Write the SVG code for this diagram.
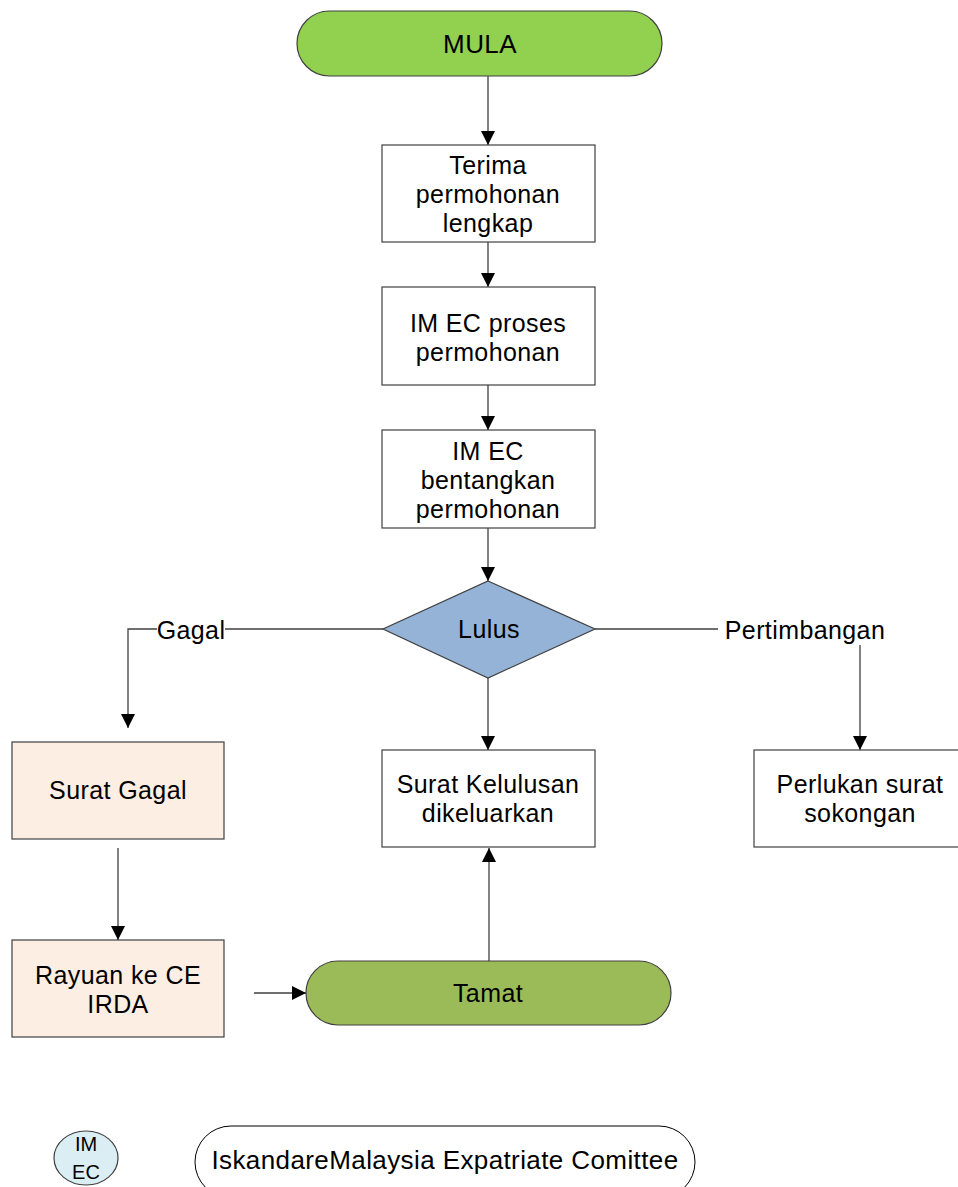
<svg xmlns="http://www.w3.org/2000/svg" width="958" height="1187" viewBox="0 0 958 1187">
<defs>
<marker id="arr" viewBox="0 0 10 10" refX="10" refY="5" markerWidth="14" markerHeight="14" markerUnits="userSpaceOnUse" orient="auto">
<path d="M0,0 L10,5 L0,10 Z" fill="#000"/>
</marker>
<style>
.t{font-family:"Liberation Sans",Arial,sans-serif;font-size:25px;letter-spacing:0.4px;fill:#000;text-anchor:middle;dominant-baseline:central}
.big{font-size:26px}
.sm{font-size:20px;letter-spacing:0}
.box{fill:#fff;stroke:#404040;stroke-width:1.2}
.peach{fill:#fdeee3;stroke:#404040;stroke-width:1.2}
.ln{fill:none;stroke:#404040;stroke-width:1.3}
.lbl{fill:#fff}
</style>
</defs>
<rect width="958" height="1187" fill="#fff"/>
<g id="connectors">
<path class="ln" d="M488,76 V145" marker-end="url(#arr)"/>
<path class="ln" d="M488,242 V287" marker-end="url(#arr)"/>
<path class="ln" d="M488,385 V430" marker-end="url(#arr)"/>
<path class="ln" d="M488,528 V581" marker-end="url(#arr)"/>
<path class="ln" d="M383,629 H128 V728" marker-end="url(#arr)"/>
<path class="ln" d="M595,629 H860 V750" marker-end="url(#arr)"/>
<path class="ln" d="M488,678 V750" marker-end="url(#arr)"/>
<path class="ln" d="M118,848 V940" marker-end="url(#arr)"/>
<path class="ln" d="M254,993 H306" marker-end="url(#arr)"/>
<path class="ln" d="M489,961 V848" marker-end="url(#arr)"/>
<rect class="lbl" x="157" y="615" width="68" height="30"/>
<text class="t" x="191" y="630">Gagal</text>
<rect class="lbl" x="718" y="615" width="174" height="30"/>
<text class="t" x="805" y="630">Pertimbangan</text>
</g>
<g id="mula">
<rect x="297" y="11" width="365" height="65" rx="32.5" fill="#92d050" stroke="#404040" stroke-width="1.2"/>
<text class="t big" x="480" y="44">MULA</text>
</g>
<g id="terima">
<rect class="box" x="382" y="145" width="213" height="97"/>
<text class="t" x="488" y="165">Terima</text>
<text class="t" x="488" y="194">permohonan</text>
<text class="t" x="488" y="223">lengkap</text>
</g>
<g id="proses">
<rect class="box" x="382" y="287" width="213" height="98"/>
<text class="t" x="488" y="323">IM EC proses</text>
<text class="t" x="488" y="352">permohonan</text>
</g>
<g id="bentang">
<rect class="box" x="382" y="430" width="213" height="98"/>
<text class="t" x="488" y="451">IM EC</text>
<text class="t" x="488" y="480">bentangkan</text>
<text class="t" x="488" y="509">permohonan</text>
</g>
<g id="lulus">
<polygon points="488,581 595,629 488,678 383,629" fill="#95b3d7" stroke="#404040" stroke-width="1.2"/>
<text class="t" x="489" y="629">Lulus</text>
</g>
<g id="suratgagal">
<rect class="peach" x="12" y="742" width="212" height="97"/>
<text class="t" x="118" y="790">Surat Gagal</text>
</g>
<g id="kelulusan">
<rect class="box" x="382" y="750" width="213" height="97"/>
<text class="t" x="488" y="784">Surat Kelulusan</text>
<text class="t" x="488" y="813">dikeluarkan</text>
</g>
<g id="perlukan">
<rect class="box" x="754" y="750" width="210" height="97"/>
<text class="t" x="860" y="784">Perlukan surat</text>
<text class="t" x="860" y="813">sokongan</text>
</g>
<g id="rayuan">
<rect class="peach" x="12" y="940" width="212" height="97"/>
<text class="t" x="118" y="975">Rayuan ke CE</text>
<text class="t" x="118" y="1004">IRDA</text>
</g>
<g id="tamat">
<rect x="306" y="961" width="365" height="64" rx="32" fill="#9bbb59" stroke="#404040" stroke-width="1.2"/>
<text class="t" x="488" y="993">Tamat</text>
</g>
<g id="legend-imec">
<ellipse cx="86" cy="1158" rx="32" ry="27" fill="#daeef3" stroke="#404040" stroke-width="1.2"/>
<text class="t sm" x="86" y="1144">IM</text>
<text class="t sm" x="86" y="1172">EC</text>
</g>
<g id="legend-text">
<rect x="195" y="1126" width="500" height="72" rx="36" fill="#fff" stroke="#000" stroke-width="1"/>
<text class="t big" x="445" y="1160">IskandareMalaysia Expatriate Comittee</text>
</g>
</svg>
